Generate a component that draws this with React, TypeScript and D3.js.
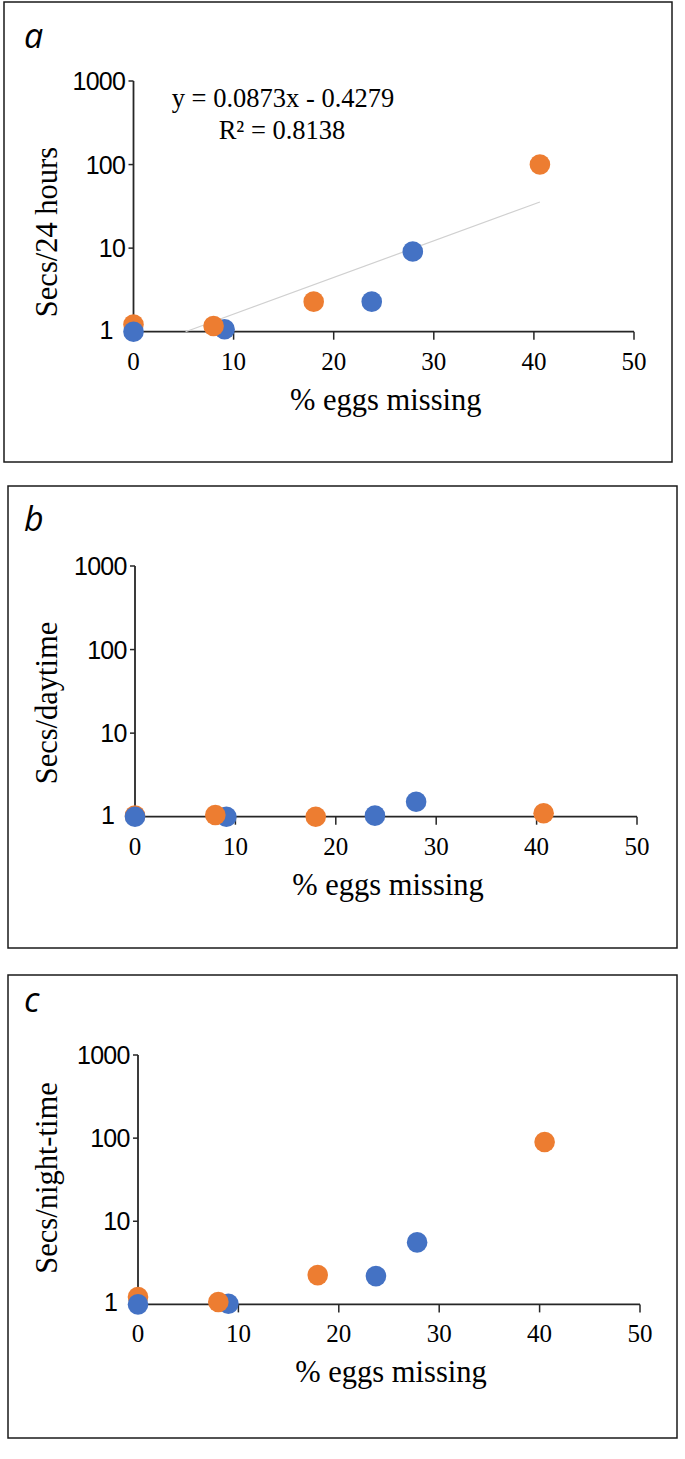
import React from "react";
import * as d3 from "d3";

// ---- data ----
const X_TICKS = [0, 10, 20, 30, 40, 50];
const Y_TICKS = [1, 10, 100, 1000];
const X_TITLE = "% eggs missing";

const PANEL_LETTERS = ["a", "b", "c"];
const Y_TITLES = ["Secs/24 hours", "Secs/daytime", "Secs/night-time"];

const ORANGE_A: [number, number][] = [[0, 1.22], [8, 1.17], [18, 2.29], [40.6, 100]];
const BLUE_A: [number, number][] = [[0, 1.0], [9.1, 1.07], [23.8, 2.29], [27.9, 9.1]];

const ORANGE_B: [number, number][] = [[0, 1.03], [8, 1.05], [18, 1.0], [40.7, 1.1]];
const BLUE_B: [number, number][] = [[0, 1.0], [9.1, 1.0], [23.9, 1.03], [28.0, 1.51]];

const ORANGE_C: [number, number][] = [[0, 1.23], [8, 1.07], [17.9, 2.25], [40.5, 90]];
const BLUE_C: [number, number][] = [[0, 1.0], [9.0, 1.02], [23.7, 2.19], [27.8, 5.57]];

const TREND_A: [number, number][] = [[5.2, 1], [40.6, 35.7]];
const EQ_LINES = ["y = 0.0873x - 0.4279", "R² = 0.8138"];

const ORANGE = "#ED7D31";
const BLUE = "#4472C4";

type Panel = {
  box: [number, number, number, number];
  left: number; right: number; top: number; bottom: number;
  orange: [number, number][];
  blue: [number, number][];
  trend?: [number, number][];
  letterY: number;
  yTitleY: number;
};

const PANELS: Panel[] = [
  { box: [4, 2, 672, 462], left: 133.5, right: 634, top: 81, bottom: 331.7,
    orange: ORANGE_A, blue: BLUE_A, trend: TREND_A, letterY: 48, yTitleY: 232 },
  { box: [8, 486, 677, 948], left: 135, right: 637, top: 566, bottom: 816.7,
    orange: ORANGE_B, blue: BLUE_B, letterY: 531, yTitleY: 703 },
  { box: [8, 975, 677, 1438], left: 138, right: 640, top: 1055, bottom: 1304.4,
    orange: ORANGE_C, blue: BLUE_C, letterY: 1012, yTitleY: 1178 },
];

const SERIF = "'Liberation Serif', 'Times New Roman', serif";
const SANS = "'Liberation Sans', Arial, sans-serif";

function PanelChart({ p, i }: { p: Panel; i: number }) {
  const x = d3.scaleLinear().domain([0, 50]).range([p.left, p.right]);
  const y = d3.scaleLog().domain([1, 1000]).range([p.bottom, p.top]);
  const pts = [
    ...p.orange.map((d) => ({ x: d[0], y: d[1], c: ORANGE, o: 0 })),
    ...p.blue.map((d) => ({ x: d[0], y: d[1], c: BLUE, o: 1 })),
  ].sort((a, b) => (b.x - a.x) || (a.o - b.o));
  const line = d3.line<[number, number]>().x((d) => x(d[0])).y((d) => y(d[1]));
  const axisColor = "#262626";
  const [bx0, by0, bx1, by1] = p.box;
  return (
    <g>
      <rect x={bx0} y={by0} width={bx1 - bx0} height={by1 - by0} fill="none" stroke="#1a1a1a" strokeWidth={1.5} />
      <text x={24} y={p.letterY} fontFamily="'Open Sans', sans-serif" fontStyle="italic" fontSize={34} fill="#000">
        {PANEL_LETTERS[i]}
      </text>
      {/* y axis */}
      <line x1={x(0)} x2={x(0)} y1={y(1000)} y2={y(1)} stroke={axisColor} strokeWidth={1.8} />
      {Y_TICKS.map((t) => (
        <g key={"y" + t}>
          <line x1={x(0) - 5} x2={x(0)} y1={y(t)} y2={y(t)} stroke={axisColor} strokeWidth={1.5} />
          <text x={x(0) - (t === 1 ? 21 : 8.5)} y={y(t) - (t === 1 ? 2 : 0)} dy="0.36em" textAnchor="end"
            fontFamily={SANS} fontSize={25} letterSpacing={-0.8} fill="#000">{t}</text>
        </g>
      ))}
      {/* x axis */}
      <line x1={x(0)} x2={x(50)} y1={y(1)} y2={y(1)} stroke={axisColor} strokeWidth={1.8} />
      {X_TICKS.map((t) => (
        <g key={"x" + t}>
          {t > 0 && <line x1={x(t)} x2={x(t)} y1={y(1)} y2={y(1) + 8} stroke={axisColor} strokeWidth={1.5} />}
          <text x={x(t)} y={y(1) + 38} textAnchor="middle" fontFamily={SERIF} fontSize={25} fill="#000">{t}</text>
        </g>
      ))}
      <text x={(x(0) + x(50)) / 2 + 2} y={y(1) + 78} textAnchor="middle" fontFamily={SERIF} fontSize={30.5} fill="#000">
        {X_TITLE}
      </text>
      <text transform={`translate(57,${p.yTitleY}) rotate(-90)`} textAnchor="middle" fontFamily={SERIF}
        fontSize={30.5} fill="#000">{Y_TITLES[i]}</text>
      {p.trend && (
        <path d={line(p.trend) || ""} fill="none" stroke="#d0d0d0" strokeWidth={1.2} />
      )}
      {p.trend && (
        <g fontFamily={SERIF} fontSize={26.5} fill="#000" textAnchor="middle">
          <text x={283} y={107}>{EQ_LINES[0]}</text>
          <text x={282} y={139}>{EQ_LINES[1]}</text>
        </g>
      )}
      {pts.map((d, k) => (
        <circle key={k} cx={x(d.x)} cy={y(d.y)} r={10.3} fill={d.c} />
      ))}
    </g>
  );
}

export default function App() {
  return (
    <svg width={685} height={1459} style={{ position: "absolute", left: 0, top: 0, background: "#fff" }}>
      <rect x={0} y={0} width={685} height={1459} fill="#fff" />
      {PANELS.map((p, i) => (
        <PanelChart key={i} p={p} i={i} />
      ))}
    </svg>
  );
}
